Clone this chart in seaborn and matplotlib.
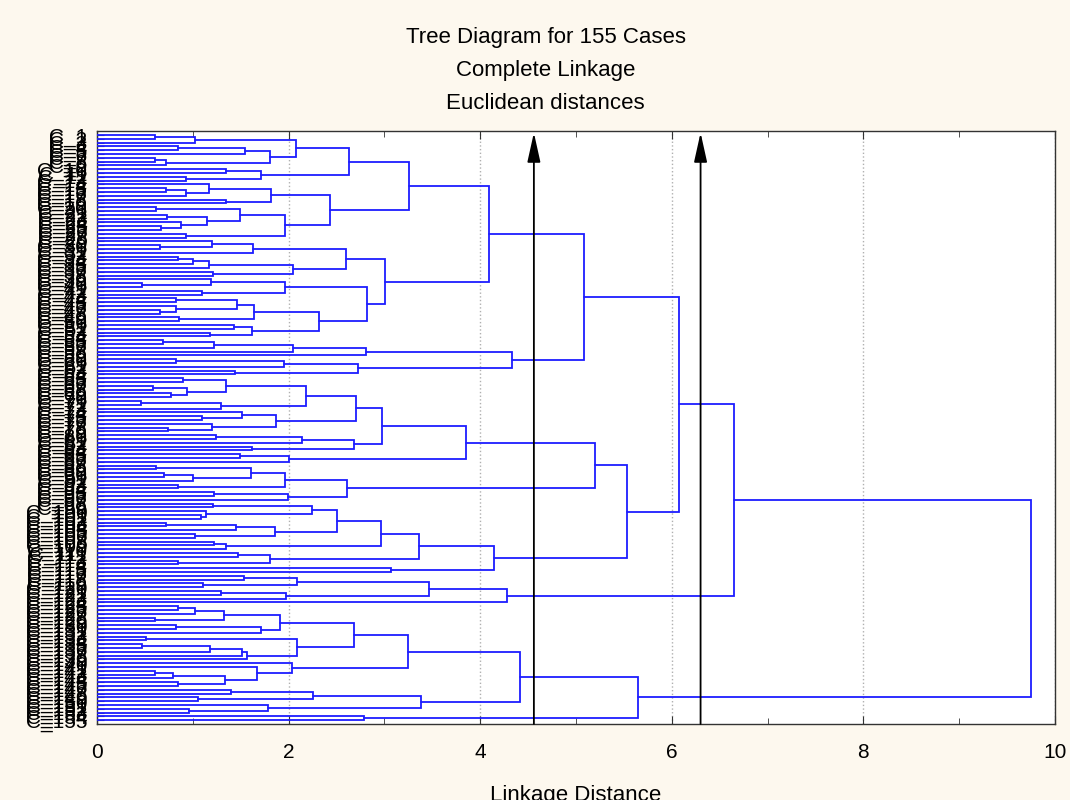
import numpy as np
import pandas as pd
import seaborn as sns
import matplotlib
matplotlib.use("Agg")
import matplotlib.pyplot as plt

# Linkage distance at which each leaf joins the next one below it (read top to bottom)
# upper group (cases 1-64)
gaps_a1a = [0.61, 1.02, 2.08, 0.84, 1.54, 1.81, 0.61, 0.72, 2.635, 1.35, 1.715, 0.93,
            3.26, 1.17, 0.72, 0.93, 1.82, 1.35, 2.43, 0.62, 1.49, 0.73, 1.15, 0.88, 0.67,
            1.958, 0.93, 4.09, 1.2, 0.66, 1.63, 2.6, 0.84, 1.0, 1.17, 2.05, 1.21, 3.01,
            1.19, 0.47, 1.96, 1.1, 2.82, 0.82, 1.46, 0.82, 0.66, 1.64, 0.86, 2.32, 1.43,
            1.62, 1.18, 5.08, 0.69, 1.22, 2.05, 2.81, 4.33, 0.82, 1.95, 2.72, 1.44]
# middle group (cases 65-116)
gaps_a1b = [0.9, 1.35, 0.58, 0.94, 0.77, 2.18, 0.46, 1.29, 2.70, 1.51, 1.1, 1.87, 1.2,
            0.74, 2.97, 1.24, 2.14, 2.68, 1.62, 3.85, 1.49, 2.0, 5.2, 0.62, 1.61, 0.70,
            1.0, 1.96, 0.85, 2.61, 1.22, 1.99, 5.53, 1.21, 2.24, 1.14, 1.09, 2.50, 0.72,
            1.45, 1.86, 1.02, 2.96, 1.22, 1.35, 3.36, 1.47, 1.81, 0.85, 4.14, 3.07]
# small group (cases 117-124)
gaps_a2 = [1.53, 2.09, 1.11, 3.46, 1.29, 1.97, 4.28]
# bottom group (cases 125-155)
gaps_b = [0.84, 1.02, 1.33, 0.61, 1.91, 0.82, 1.71, 2.68, 0.51, 2.09, 0.47, 1.18, 1.51,
          1.57, 3.25, 2.03, 1.67, 0.61, 0.79, 1.34, 0.85, 4.41, 1.40, 2.25, 1.05, 3.38,
          1.78, 0.96, 5.65, 2.79]
join_a1 = 6.08
join_a = 6.65
join_root = 9.75

cut_lines = [4.56, 6.30]
x_ticks = [0, 2, 4, 6, 8, 10]

gaps = gaps_a1a + [join_a1] + gaps_a1b + [join_a] + gaps_a2 + [join_root] + gaps_b
n_cases = len(gaps) + 1
case_labels = ["C_%d" % (i + 1) for i in range(n_cases)]

sns.set_style("ticks")
plt.rcParams['font.family'] = ['Liberation Sans', 'DejaVu Sans']
plt.rcParams['text.color'] = 'black'
plt.rcParams['xtick.color'] = 'black'
plt.rcParams['ytick.color'] = 'black'
plt.rcParams['axes.labelcolor'] = 'black'

fig = plt.figure(figsize=(10.7, 8), dpi=100, facecolor="#fdf8ee")
ax = fig.add_axes([0.0907, 0.095, 0.8953, 0.741])
ax.set_facecolor("white")

line_color = "#1c1cff"


def draw(lo, hi):
    # split the leaf range at its largest gap and draw the bracket
    if lo == hi:
        return lo, 0.0
    k = lo + int(np.argmax(gaps[lo:hi]))
    h = gaps[k]
    yl, hl = draw(lo, k)
    yr, hr = draw(k + 1, hi)
    ax.plot([hl, h, h, hr], [yl, yl, yr, yr], color=line_color, lw=1.3,
            solid_joinstyle="miter", zorder=3)
    return (yl + yr) / 2, h


draw(0, n_cases - 1)

#Cut lines
for c in cut_lines:
    ax.annotate("", xy=(c, -0.6), xytext=(c, n_cases),
                arrowprops=dict(arrowstyle="-|>,head_length=0.9,head_width=0.2",
                                color="black", lw=1.3, mutation_scale=20,
                                shrinkA=0, shrinkB=0), zorder=4)

ax.set_xlim(0, 10)
ax.set_ylim(n_cases, -1)
ax.set_xticks(x_ticks)
ax.set_xticks([1, 3, 5, 7, 9], minor=True)
ax.set_yticks(range(n_cases))
ax.set_yticklabels(case_labels, fontsize=15)
ax.tick_params(axis="x", which="both", direction="in", top=True, labelsize=15,
               pad=14, color="#333333")
ax.tick_params(axis="x", which="major", length=6)
ax.tick_params(axis="x", which="minor", length=4)
ax.tick_params(axis="y", direction="in", length=5, width=0.8, pad=7, color="#444444")
ax.grid(axis="x", linestyle=":", color="#b0b0b0", lw=1)
for s in ax.spines.values():
    s.set_color("#333333")
    s.set_linewidth(1)

ax.set_xlabel("Linkage Distance", fontsize=16, labelpad=16)
ax.set_ylabel("")

fig.text(0.51, 0.953, "Tree Diagram for 155 Cases", ha="center", va="center", fontsize=16)
fig.text(0.51, 0.912, "Complete Linkage", ha="center", va="center", fontsize=16)
fig.text(0.51, 0.871, "Euclidean distances", ha="center", va="center", fontsize=16)

plt.savefig("out.png", dpi=100, facecolor=fig.get_facecolor())
